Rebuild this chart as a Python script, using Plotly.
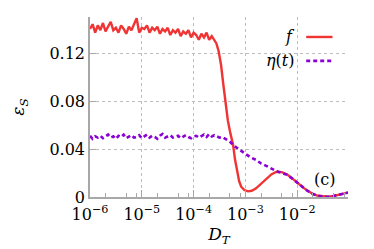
import numpy as np
import plotly.graph_objects as go

# ---- data (x given as log10(D_T)) ----
f_logDT = [-6.00, -5.95, -5.90, -5.85, -5.80, -5.75, -5.70, -5.65, -5.60, -5.55,
           -5.50, -5.45, -5.40, -5.35, -5.30, -5.25, -5.20, -5.15, -5.10, -5.05,
           -5.00, -4.95, -4.90, -4.85, -4.80, -4.75, -4.70, -4.65, -4.60, -4.55,
           -4.50, -4.45, -4.40, -4.35, -4.30, -4.25, -4.20, -4.15, -4.10, -4.05,
           -4.00, -3.95, -3.90, -3.85, -3.80, -3.75, -3.70, -3.65, -3.60,
           -3.56, -3.52, -3.47, -3.43, -3.38, -3.34, -3.29, -3.24, -3.20, -3.16,
           -3.12, -3.08, -3.02, -2.95, -2.88, -2.80, -2.70, -2.60, -2.50, -2.40,
           -2.30, -2.20, -2.10, -2.00, -1.90, -1.80, -1.70, -1.60, -1.50, -1.40,
           -1.30, -1.20, -1.10, -1.02]
f_vals = [0.140, 0.144, 0.137, 0.143, 0.139, 0.145, 0.138, 0.142, 0.146, 0.139,
          0.141, 0.137, 0.143, 0.140, 0.136, 0.142, 0.139, 0.144, 0.149, 0.137,
          0.141, 0.140, 0.143, 0.137, 0.141, 0.139, 0.142, 0.136, 0.140, 0.138,
          0.141, 0.135, 0.139, 0.137, 0.140, 0.134, 0.138, 0.136, 0.139, 0.133,
          0.137, 0.135, 0.131, 0.136, 0.133, 0.137, 0.131, 0.134, 0.130,
          0.128, 0.122, 0.110, 0.095, 0.078, 0.064, 0.053, 0.044, 0.031, 0.020,
          0.013, 0.0085, 0.0058, 0.0047, 0.0052, 0.0070, 0.0110, 0.0150, 0.0188, 0.0210,
          0.0207, 0.0190, 0.0158, 0.0122, 0.0082, 0.0050, 0.0025, 0.0010, 0.0003, 0.0002,
          0.0008, 0.0018, 0.0030, 0.0037]

eta_logDT = [-6.00, -5.95, -5.90, -5.85, -5.80, -5.75, -5.70, -5.65, -5.60, -5.55,
             -5.50, -5.45, -5.40, -5.35, -5.30, -5.25, -5.20, -5.15, -5.10, -5.05,
             -5.00, -4.95, -4.90, -4.85, -4.80, -4.75, -4.70, -4.65, -4.60, -4.55,
             -4.50, -4.45, -4.40, -4.35, -4.30, -4.25, -4.20, -4.15, -4.10, -4.05,
             -4.00, -3.95, -3.90, -3.85, -3.80, -3.75, -3.70, -3.65, -3.60, -3.55,
             -3.50, -3.45, -3.40, -3.35, -3.30, -3.20, -3.10, -3.00, -2.90, -2.80,
             -2.70, -2.60, -2.50, -2.40, -2.30, -2.20, -2.10, -2.00, -1.90, -1.80,
             -1.70, -1.60, -1.50, -1.40, -1.30, -1.20, -1.10, -1.02]
eta_vals = [0.0510, 0.0485, 0.0505, 0.0495, 0.0510, 0.0490, 0.0505, 0.0520, 0.0495, 0.0505,
            0.0485, 0.0510, 0.0500, 0.0520, 0.0490, 0.0505, 0.0515, 0.0495, 0.0500, 0.0515,
            0.0490, 0.0505, 0.0520, 0.0495, 0.0510, 0.0500, 0.0485, 0.0510, 0.0525, 0.0495,
            0.0505, 0.0515, 0.0495, 0.0505, 0.0510, 0.0490, 0.0500, 0.0515, 0.0500, 0.0490,
            0.0505, 0.0510, 0.0495, 0.0510, 0.0520, 0.0500, 0.0525, 0.0505, 0.0515, 0.0505,
            0.0495, 0.0500, 0.0490, 0.0475, 0.0460, 0.0420, 0.0390, 0.0360, 0.0330, 0.0310,
            0.0280, 0.0260, 0.0235, 0.0215, 0.0200, 0.0185, 0.0155, 0.0120, 0.0080, 0.0050,
            0.0025, 0.0010, 0.0003, 0.0002, 0.0008, 0.0018, 0.0030, 0.0037]

y_tickvals = [0, 0.04, 0.08, 0.12]
y_ticktext = ["0", "0.04", "0.08", "0.12"]
x_tickvals = [1e-6, 1e-5, 1e-4, 1e-3, 1e-2]
x_ticktext = ["10<sup>−6</sup>", "10<sup>−5</sup>", "10<sup>−4</sup>",
              "10<sup>−3</sup>", "10<sup>−2</sup>"]
x_minor_vals = [m * 10.0 ** k for k in range(-6, -1) for m in (2, 5, 8)]

RED = "#f03434"
PURPLE = "#8a00d6"
AXIS = "#a8a8a8"
FONT = "DejaVu Serif"
FS = 16

fig = go.Figure()
fig.add_trace(go.Scatter(x=10.0 ** np.array(f_logDT), y=f_vals, mode="lines",
                         line=dict(color=RED, width=2.4), name="f", showlegend=False))
fig.add_trace(go.Scatter(x=10.0 ** np.array(eta_logDT), y=eta_vals, mode="lines",
                         line=dict(color=PURPLE, width=2.6, dash="4px,3px"),
                         name="η(t)", showlegend=False))

fig.update_layout(
    width=374, height=249,
    margin=dict(l=75, r=34, t=9, b=60),
    paper_bgcolor="white", plot_bgcolor="white",
    font=dict(family=FONT, size=FS, color="black"),
    showlegend=False,
)
fig.update_xaxes(
    type="log", range=[-6, -1.02], tickmode="array",
    tickvals=x_tickvals, ticktext=x_ticktext,
    showline=True, linecolor=AXIS, linewidth=1.5,
    ticks="inside", ticklen=7, tickcolor=AXIS, tickwidth=1,
    showgrid=True, gridcolor="#bdbdbd", griddash="dot", gridwidth=1,
    zeroline=False, tickfont=dict(family=FONT, size=FS), ticklabelstandoff=2,
    minor=dict(tickmode="array", tickvals=x_minor_vals, ticks="inside", ticklen=4,
               tickcolor=AXIS, showgrid=False),
    title=dict(text="<i>D</i><sub><i>T</i></sub>", font=dict(family=FONT, size=17), standoff=3),
)
fig.update_yaxes(
    range=[0, 0.15], tickvals=y_tickvals, ticktext=y_ticktext,
    showline=True, linecolor=AXIS, linewidth=1.5,
    ticks="inside", ticklen=6, tickcolor=AXIS, tickwidth=1,
    showgrid=True, gridcolor="#bdbdbd", griddash="dot", gridwidth=1,
    zeroline=False, tickfont=dict(family=FONT, size=FS),
    title=dict(text="<i>ε</i><sub><i>S</i></sub>", font=dict(family=FONT, size=17), standoff=21),
)

# legend drawn as text + sample lines (text on the left, like the original)
fig.add_annotation(x=0.804, y=0.889, xref="paper", yref="paper", text="<i>f</i>",
                   showarrow=False, xanchor="right", yanchor="middle",
                   font=dict(family=FONT, size=FS))
fig.add_annotation(x=0.804, y=0.756, xref="paper", yref="paper", text="<i>η</i>(<i>t</i>)",
                   showarrow=False, xanchor="right", yanchor="middle",
                   font=dict(family=FONT, size=FS))
fig.add_shape(type="line", xref="paper", yref="paper", x0=0.838, x1=0.94, y0=0.889, y1=0.889,
              line=dict(color=RED, width=2.4))
fig.add_shape(type="line", xref="paper", yref="paper", x0=0.838, x1=0.94, y0=0.756, y1=0.756,
              line=dict(color=PURPLE, width=2.6, dash="4px,3px"))
fig.add_annotation(x=0.909, y=0.097, xref="paper", yref="paper", text="(c)",
                   showarrow=False, xanchor="center", yanchor="middle",
                   font=dict(family=FONT, size=FS))

fig.write_html("out.html")
